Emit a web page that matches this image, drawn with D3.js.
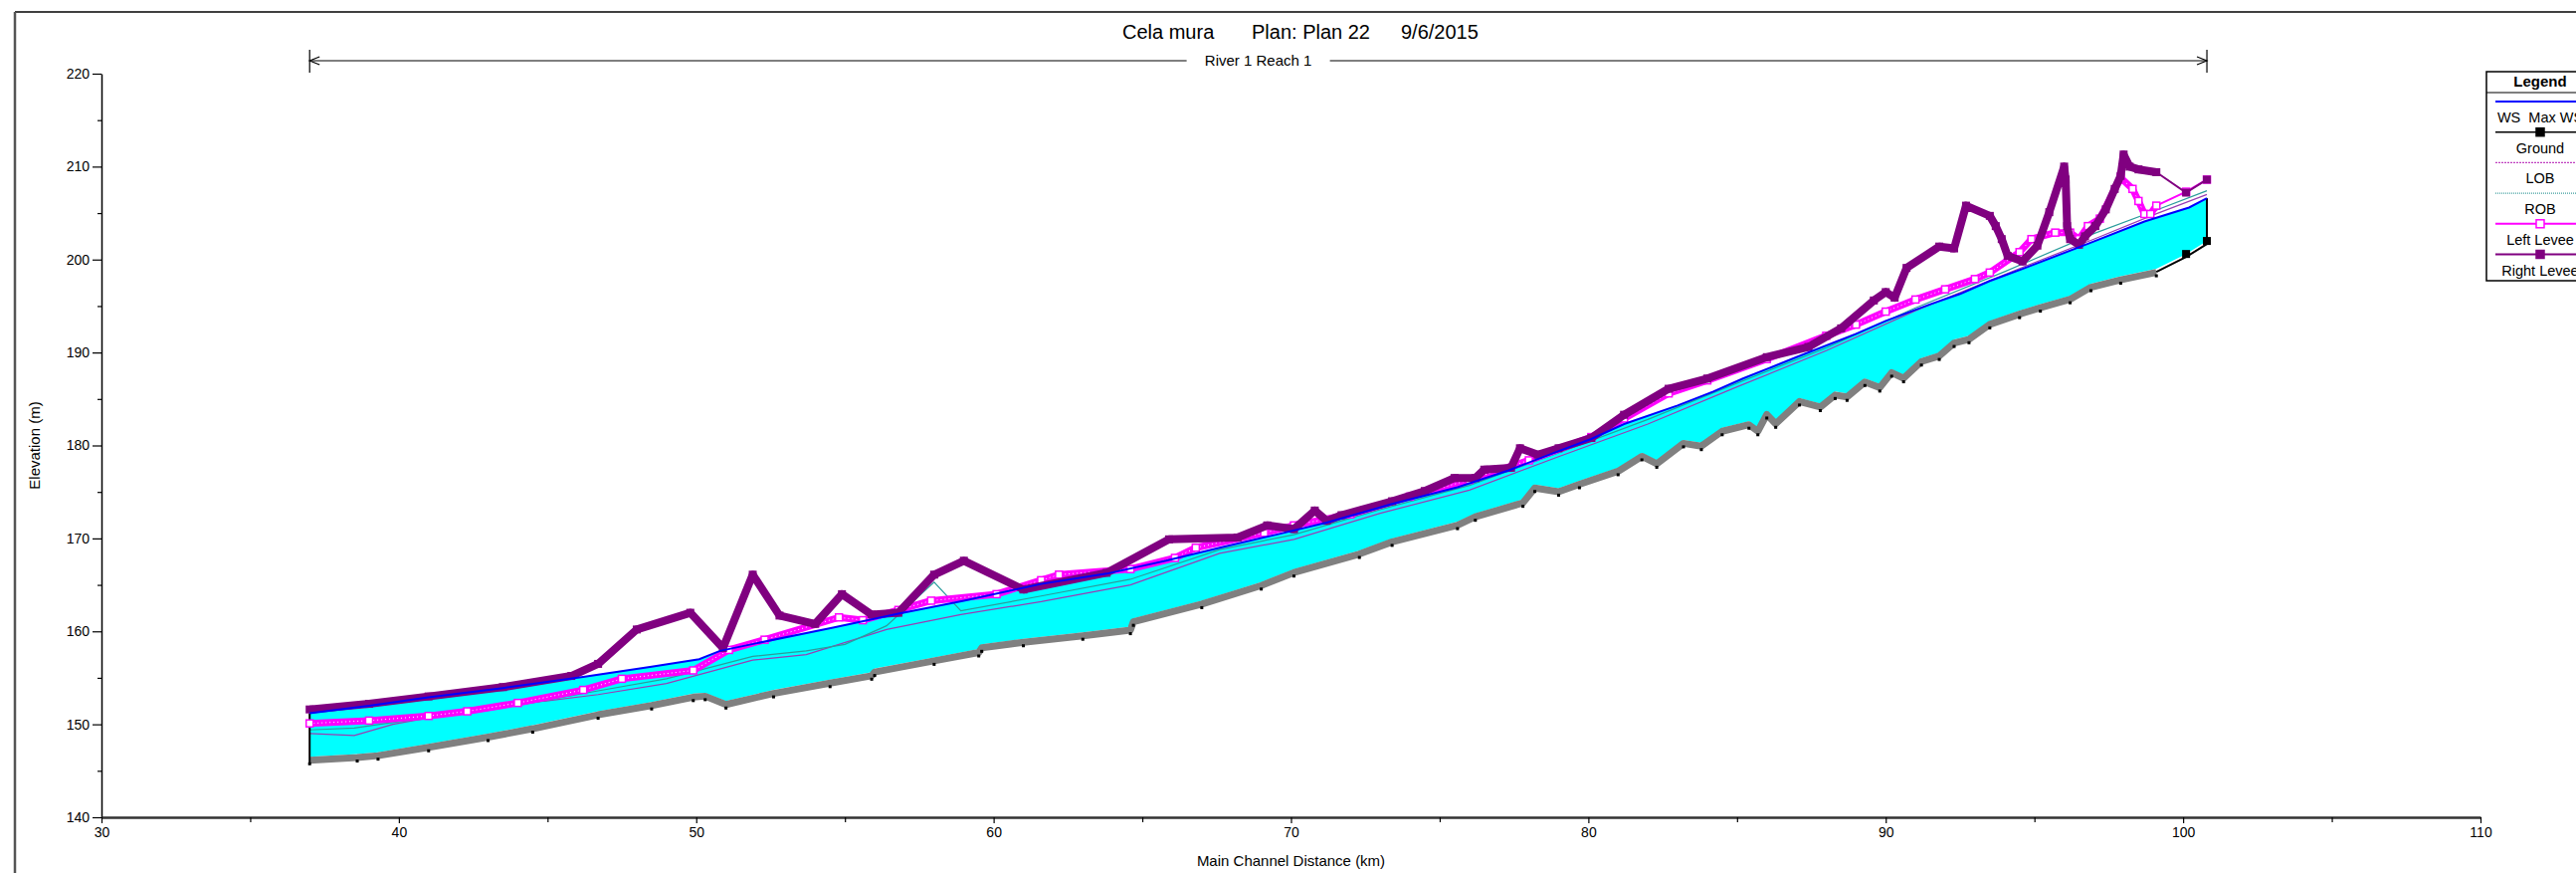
<!DOCTYPE html>
<html>
<head>
<meta charset="utf-8">
<script src="https://cdn.jsdelivr.net/npm/d3@7"></script>
<style>
body { margin: 0; background: #fff; }
svg { display: block; font-family: "Liberation Sans", Arial, sans-serif; }
</style>
</head>
<body>
<script>
// Profile data (km along main channel, elevation in m)
var wsKm   = [37.0, 39.0, 41.0, 43.5, 46.2, 48.5, 50.1, 50.8, 52.0, 54.6, 56.8, 59.0, 61.6, 63.8, 65.8, 67.6, 69.5, 71.2, 73.4, 75.6, 77.3, 79.0, 80.1, 81.2, 83.0, 84.2, 85.2, 87.0, 89.0, 90.0, 91.5, 92.5, 93.5, 94.6, 96.8, 98.7, 100.2, 100.8];
var wsElev = [151.2, 152.0, 152.9, 153.9, 155.1, 156.2, 157.0, 157.9, 158.7, 160.4, 161.9, 163.3, 165.1, 166.2, 167.6, 169.0, 170.4, 171.7, 173.7, 175.5, 177.3, 179.4, 180.7, 182.3, 184.3, 185.8, 187.2, 189.5, 192.0, 193.4, 195.2, 196.3, 197.7, 199.0, 201.7, 204.1, 205.6, 206.6];

var groundKm   = [37.0, 38.6, 39.3, 41.0, 43.0, 44.5, 46.7, 48.5, 49.9, 50.3, 51.0, 52.6, 54.5, 55.9, 56.0, 58.0, 59.5, 59.6, 61.0, 63.0, 64.6, 64.7, 67.0, 69.0, 70.1, 72.3, 73.4, 75.6, 76.2, 77.8, 78.2, 79.0, 79.7, 81.0, 81.8, 82.3, 83.2, 83.8, 84.5, 85.4, 85.7, 86.0, 86.3, 87.1, 87.8, 88.3, 88.7, 89.3, 89.8, 90.2, 90.6, 91.2, 91.8, 92.3, 92.8, 93.5, 94.5, 95.2, 96.2, 96.9, 97.9, 99.1, 100.1, 100.8];
var groundElev = [146.5, 146.8, 147.0, 147.9, 149.0, 149.9, 151.4, 152.4, 153.3, 153.4, 152.5, 153.7, 154.8, 155.6, 156.0, 157.2, 158.1, 158.6, 159.2, 159.9, 160.5, 161.4, 163.3, 165.3, 166.7, 168.7, 170.0, 171.8, 172.7, 174.2, 175.8, 175.4, 176.2, 177.6, 179.2, 178.4, 180.6, 180.3, 181.9, 182.6, 181.9, 183.7, 182.7, 185.1, 184.5, 185.8, 185.6, 187.2, 186.6, 188.2, 187.6, 189.4, 190.0, 191.4, 191.8, 193.4, 194.5, 195.2, 196.1, 197.4, 198.2, 199.0, 200.6, 202.0];

var lobKm   = [37.0, 38.5, 39.8, 41.0, 44.9, 46.7, 49.0, 51.9, 53.7, 56.4, 58.9, 61.6, 64.6, 67.6, 70.1, 73.0, 76.0, 79.0, 82.0, 85.0, 88.0, 91.0, 94.0, 97.0, 99.0, 100.8];
var lobElev = [149.0, 148.8, 150.0, 150.7, 152.5, 153.2, 154.4, 156.9, 157.5, 160.2, 161.8, 163.2, 165.0, 168.4, 169.9, 172.7, 175.2, 178.8, 182.3, 186.3, 190.2, 194.5, 198.4, 202.2, 204.8, 207.0];

var robKm   = [37.0, 38.5, 40.0, 43.0, 46.7, 49.0, 51.9, 53.7, 55.0, 56.4, 58.0, 58.9, 61.6, 64.6, 67.6, 70.1, 73.0, 76.0, 79.0, 82.0, 85.0, 88.0, 91.0, 94.0, 97.0, 99.0, 100.8];
var robElev = [149.4, 149.6, 150.3, 151.5, 153.6, 154.9, 157.3, 157.9, 158.6, 160.6, 165.3, 162.2, 163.8, 165.6, 168.8, 170.4, 173.1, 175.7, 179.2, 182.8, 186.7, 190.5, 194.8, 198.7, 202.8, 205.2, 207.4];

var leftLeveeKm   = [37.0, 39.0, 41.0, 42.3, 44.0, 46.2, 47.5, 49.9, 51.1, 52.3, 54.8, 55.6, 56.8, 57.9, 60.1, 61.6, 62.2, 64.6, 66.1, 66.8, 69.1, 70.1, 72.0, 74.0, 76.0, 78.0, 80.1, 81.2, 82.7, 84.0, 86.0, 88.0, 89.0, 90.0, 91.0, 92.0, 93.0, 93.5, 94.5, 94.9, 95.7, 96.2, 96.5, 96.8, 97.2, 97.9, 98.3, 98.5, 98.7, 98.9, 99.1, 100.1, 100.8];
var leftLeveeElev = [150.1, 150.4, 150.9, 151.4, 152.3, 153.7, 154.9, 155.8, 158.0, 159.1, 161.5, 161.2, 162.3, 163.3, 164.0, 165.5, 166.1, 166.7, 167.9, 169.0, 170.6, 171.4, 172.6, 174.5, 176.3, 178.4, 180.9, 182.9, 185.6, 187.0, 189.3, 191.8, 193.0, 194.4, 195.7, 196.8, 197.9, 198.6, 200.8, 202.2, 202.9, 202.9, 202.2, 203.6, 204.4, 208.8, 207.6, 206.3, 204.9, 204.9, 205.8, 207.3, 208.6];

var rightLeveeKm   = [37.0, 39.0, 41.0, 43.5, 45.8, 46.7, 48.0, 49.8, 50.9, 51.9, 52.8, 54.0, 54.9, 55.9, 56.8, 58.0, 59.0, 61.0, 63.8, 65.9, 68.2, 69.2, 70.1, 70.8, 71.2, 71.7, 73.4, 74.5, 75.5, 76.2, 76.5, 77.4, 77.7, 78.3, 79.0, 80.1, 81.2, 82.7, 84.0, 86.0, 87.4, 88.5, 89.6, 90.0, 90.3, 90.7, 91.8, 92.3, 92.7, 93.5, 93.7, 93.9, 94.1, 94.6, 95.1, 95.5, 96.0, 96.05, 96.1, 96.2, 96.5, 96.7, 97.05, 97.4, 97.7, 97.9, 98.0, 98.2, 98.5, 99.1, 100.1, 100.8];
var rightLeveeElev = [151.6, 152.2, 153.0, 154.0, 155.2, 156.5, 160.2, 162.0, 158.2, 166.1, 161.7, 160.8, 164.0, 161.8, 162.0, 166.1, 167.6, 164.5, 166.3, 169.9, 170.1, 171.4, 171.0, 173.0, 171.9, 172.5, 174.0, 175.1, 176.5, 176.5, 177.4, 177.6, 179.7, 179.0, 179.7, 180.8, 183.3, 186.1, 187.2, 189.5, 190.6, 192.6, 195.6, 196.5, 195.9, 199.1, 201.4, 201.2, 205.8, 204.7, 203.6, 202.2, 200.4, 199.8, 201.5, 205.1, 210.0, 208.6, 203.6, 202.2, 201.6, 202.5, 203.6, 205.4, 207.6, 209.0, 211.3, 210.0, 209.7, 209.4, 207.2, 208.6];

var xTicks = [30, 40, 50, 60, 70, 80, 90, 100, 110];
var xMinorTicks = [35, 45, 55, 65, 75, 85, 95, 105];
var yTicks = [140, 150, 160, 170, 180, 190, 200, 210, 220];
var yMinorTicks = [145, 155, 165, 175, 185, 195, 205, 215];

var legendNames = ['WS  Max WS', 'Ground', 'LOB', 'ROB', 'Left Levee', 'Right Levee'];

// Layout
var width = 2589, height = 877;
var plotLeft = 102, plotRight = 2493, plotTop = 74, plotBottom = 821;
var bandEnd = 99.1; // cross sections past this are far apart, drawn as thin lines

var svg = d3.select('body').append('svg')
    .attr('width', width)
    .attr('height', height);

var x = d3.scaleLinear().domain([30, 110]).range([plotLeft, plotRight]);
var y = d3.scaleLinear().domain([140, 220]).range([plotBottom, plotTop]);

function pairs(kms, elevs) {
    return kms.map(function(k, i) { return [k, elevs[i]]; });
}
var line = d3.line()
    .x(function(d) { return x(d[0]); })
    .y(function(d) { return y(d[1]); });

var ws = pairs(wsKm, wsElev);
var ground = pairs(groundKm, groundElev);
var lob = pairs(lobKm, lobElev);
var rob = pairs(robKm, robElev);
var leftLevee = pairs(leftLeveeKm, leftLeveeElev);
var rightLevee = pairs(rightLeveeKm, rightLeveeElev);

function dense(pts) { return pts.filter(function(d) { return d[0] <= bandEnd; }); }
function sparse(pts) { return pts.filter(function(d) { return d[0] >= bandEnd; }); }

// outer frame lines
svg.append('line').attr('x1', 15).attr('x2', width).attr('y1', 12).attr('y2', 12)
    .attr('stroke', '#000').attr('stroke-width', 1.5);
svg.append('line').attr('x1', 15).attr('x2', 15).attr('y1', 12).attr('y2', height)
    .attr('stroke', '#555').attr('stroke-width', 2.5);

// title
var titleParts = [['Cela mura', 1128], ['Plan: Plan 22', 1258], ['9/6/2015', 1408]];
svg.selectAll('text.title').data(titleParts).enter().append('text')
    .attr('class', 'title')
    .attr('x', function(d) { return d[1]; })
    .attr('y', 39)
    .attr('font-size', 20)
    .text(function(d) { return d[0]; });

// river / reach extent marker
var reachL = x(d3.min(wsKm)), reachR = x(d3.max(wsKm)), reachY = 61;
var reachMid = (reachL + reachR) / 2;
var reach = svg.append('g').attr('stroke', '#000').attr('stroke-width', 1.2).attr('fill', 'none');
reach.append('line').attr('x1', reachL).attr('x2', reachMid - 72).attr('y1', reachY).attr('y2', reachY);
reach.append('line').attr('x1', reachMid + 72).attr('x2', reachR).attr('y1', reachY).attr('y2', reachY);
reach.append('line').attr('x1', reachL).attr('x2', reachL).attr('y1', 50).attr('y2', 73);
reach.append('line').attr('x1', reachR).attr('x2', reachR).attr('y1', 50).attr('y2', 73);
reach.append('path').attr('d', 'M' + (reachL + 10) + ',' + (reachY - 4) + 'L' + reachL + ',' + reachY + 'L' + (reachL + 10) + ',' + (reachY + 4));
reach.append('path').attr('d', 'M' + (reachR - 10) + ',' + (reachY - 4) + 'L' + reachR + ',' + reachY + 'L' + (reachR - 10) + ',' + (reachY + 4));
svg.append('text').attr('x', reachMid).attr('y', reachY + 5)
    .attr('text-anchor', 'middle').attr('font-size', 15)
    .text('River 1 Reach 1');

// water between surface and ground
svg.append('path')
    .attr('d', line(ws.concat(ground.slice().reverse())) + 'Z')
    .attr('fill', '#00ffff')
    .attr('stroke', 'none');

// bank stations
svg.append('path').attr('d', line(lob))
    .attr('fill', 'none').attr('stroke', '#9a3cb4').attr('stroke-width', 1.2);
svg.append('path').attr('d', line(rob))
    .attr('fill', 'none').attr('stroke', '#2a9c9c').attr('stroke-width', 1.2);

// ground: dense part as grey band, last cross sections as black line
svg.append('path').attr('d', line(dense(ground)))
    .attr('transform', 'translate(0,3.5)')
    .attr('fill', 'none').attr('stroke', '#808080').attr('stroke-width', 7)
    .attr('stroke-linejoin', 'round');
svg.selectAll('rect.gdot').data(dense(ground)).enter().append('rect')
    .attr('class', 'gdot')
    .attr('x', function(d) { return x(d[0]) - 1.5; })
    .attr('y', function(d) { return y(d[1]) + 5.5; })
    .attr('width', 3).attr('height', 3).attr('fill', '#000');
svg.append('path').attr('d', line(sparse(ground)))
    .attr('transform', 'translate(0,3)')
    .attr('fill', 'none').attr('stroke', '#000').attr('stroke-width', 2);
svg.selectAll('rect.gmark').data(sparse(ground).slice(1)).enter().append('rect')
    .attr('class', 'gmark')
    .attr('x', function(d) { return x(d[0]) - 4; })
    .attr('y', function(d) { return y(d[1]) - 4; })
    .attr('width', 8).attr('height', 8).attr('fill', '#000');

// end lines of the wetted area
svg.append('line')
    .attr('x1', x(wsKm[0])).attr('x2', x(groundKm[0]))
    .attr('y1', y(wsElev[0])).attr('y2', y(groundElev[0]) + 7)
    .attr('stroke', '#000').attr('stroke-width', 2);
svg.append('line')
    .attr('x1', x(wsKm[wsKm.length - 1])).attr('x2', x(groundKm[groundKm.length - 1]))
    .attr('y1', y(wsElev[wsElev.length - 1])).attr('y2', y(groundElev[groundElev.length - 1]))
    .attr('stroke', '#000').attr('stroke-width', 2);

// left levee: magenta, open squares
svg.append('path').attr('d', line(dense(leftLevee)))
    .attr('fill', 'none').attr('stroke', '#ff00ff').attr('stroke-width', 7)
    .attr('stroke-linejoin', 'round');
svg.append('path').attr('d', line(dense(leftLevee)))
    .attr('fill', 'none').attr('stroke', '#fff').attr('stroke-width', 1)
    .attr('stroke-dasharray', '1,3');
svg.append('path').attr('d', line(sparse(leftLevee)))
    .attr('fill', 'none').attr('stroke', '#ff00ff').attr('stroke-width', 2);
svg.selectAll('rect.ll').data(leftLevee).enter().append('rect')
    .attr('class', 'll')
    .attr('x', function(d) { return x(d[0]) - 3.5; })
    .attr('y', function(d) { return y(d[1]) - 3.5; })
    .attr('width', 7).attr('height', 7)
    .attr('fill', '#fff').attr('stroke', '#ff00ff').attr('stroke-width', 1.5);

// right levee: purple, filled squares
svg.append('path').attr('d', line(dense(rightLevee)))
    .attr('fill', 'none').attr('stroke', '#800080').attr('stroke-width', 8)
    .attr('stroke-linejoin', 'round');
svg.append('path').attr('d', line(sparse(rightLevee)))
    .attr('fill', 'none').attr('stroke', '#800080').attr('stroke-width', 2);
svg.selectAll('rect.rl').data(rightLevee).enter().append('rect')
    .attr('class', 'rl')
    .attr('x', function(d) { return x(d[0]) - 4; })
    .attr('y', function(d) { return y(d[1]) - 4; })
    .attr('width', 8).attr('height', 8)
    .attr('fill', '#800080');

// water surface
svg.append('path').attr('d', line(ws))
    .attr('fill', 'none').attr('stroke', '#0000ff').attr('stroke-width', 2);

// axes
var yAxis = svg.append('g').attr('transform', 'translate(' + plotLeft + ',0)')
    .call(d3.axisLeft(y).tickValues(yTicks).tickSize(9).tickSizeOuter(0).tickPadding(3));
svg.append('g').attr('transform', 'translate(' + plotLeft + ',0)')
    .call(d3.axisLeft(y).tickValues(yMinorTicks).tickSize(4).tickFormat(''))
    .select('.domain').remove();
var xAxis = svg.append('g').attr('transform', 'translate(0,' + plotBottom + ')')
    .call(d3.axisBottom(x).tickValues(xTicks).tickSize(6).tickSizeOuter(0).tickPadding(4));
svg.append('g').attr('transform', 'translate(0,' + plotBottom + ')')
    .call(d3.axisBottom(x).tickValues(xMinorTicks).tickSize(5).tickFormat(''))
    .select('.domain').remove();
yAxis.selectAll('text').attr('font-size', 14).attr('font-family', null).attr('fill', '#000');
xAxis.selectAll('text').attr('font-size', 14).attr('font-family', null).attr('fill', '#000');
yAxis.select('.domain').attr('stroke-width', 1.5);
xAxis.select('.domain').attr('stroke-width', 2.5).attr('stroke', '#333');
svg.selectAll('.tick line').attr('stroke-width', 1.2);

svg.append('text')
    .attr('transform', 'translate(40,' + ((plotTop + plotBottom) / 2) + ') rotate(-90)')
    .attr('text-anchor', 'middle').attr('font-size', 15)
    .text('Elevation (m)');
svg.append('text')
    .attr('x', (plotLeft + plotRight) / 2).attr('y', 870)
    .attr('text-anchor', 'middle').attr('font-size', 15)
    .text('Main Channel Distance (km)');

// legend
var legX = 2499, legY = 72, legW = 120, legH = 210, legMid = 2553, rowStep = 30.7;
var leg = svg.append('g');
leg.append('rect').attr('x', legX).attr('y', legY).attr('width', legW).attr('height', legH)
    .attr('fill', '#fff').attr('stroke', '#000').attr('stroke-width', 1.5);
leg.append('text').attr('x', legMid).attr('y', 87).attr('text-anchor', 'middle')
    .attr('font-size', 15).attr('font-weight', 'bold').text('Legend');
leg.append('line').attr('x1', legX).attr('x2', width).attr('y1', 93).attr('y2', 93)
    .attr('stroke', '#000').attr('stroke-width', 1.2);

var legStyles = [
    { stroke: '#0000ff', w: 2, dash: null, marker: null },
    { stroke: '#000', w: 1.5, dash: null, marker: 'filled' },
    { stroke: '#c040c0', w: 1.2, dash: '2,1', marker: null },
    { stroke: '#40a0a0', w: 1.2, dash: '1,1', marker: null },
    { stroke: '#ff00ff', w: 2, dash: null, marker: 'open' },
    { stroke: '#800080', w: 2, dash: null, marker: 'filled' }
];
legendNames.forEach(function(name, i) {
    var st = legStyles[i];
    var ly = 102 + i * rowStep;
    leg.append('line').attr('x1', 2508).attr('x2', width).attr('y1', ly).attr('y2', ly)
        .attr('stroke', st.stroke).attr('stroke-width', st.w)
        .attr('stroke-dasharray', st.dash);
    if (st.marker) {
        leg.append('rect').attr('x', legMid - 4).attr('y', ly - 4).attr('width', 8).attr('height', 8)
            .attr('fill', st.marker === 'filled' ? st.stroke : '#fff')
            .attr('stroke', st.stroke).attr('stroke-width', 1.5);
    }
    leg.append('text').attr('x', legMid).attr('y', ly + 21).attr('text-anchor', 'middle')
        .attr('font-size', 14.5).attr('xml:space', 'preserve').text(name);
});
</script>
</body>
</html>
